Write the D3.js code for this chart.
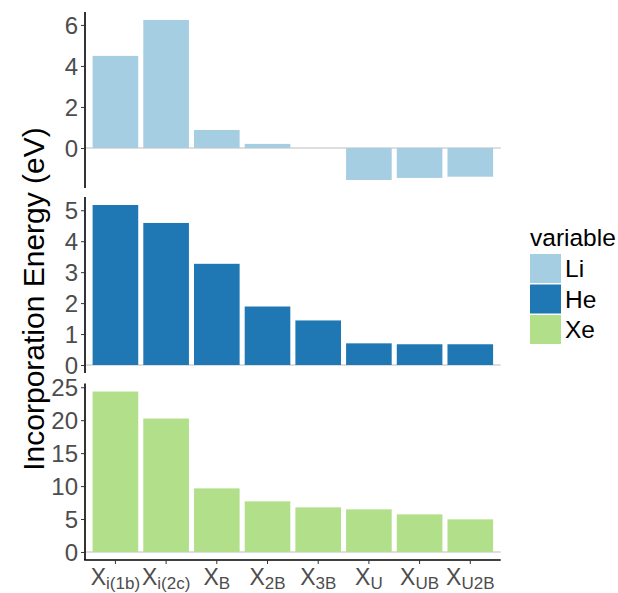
<!DOCTYPE html>
<html>
<head>
<meta charset="utf-8">
<script src="https://cdnjs.cloudflare.com/ajax/libs/d3/7.8.5/d3.min.js"></script>
<style>
  body { margin: 0; background: #fff; }
  text { font-family: "Liberation Sans", Arial, sans-serif; }
</style>
</head>
<body>
<script>
// DATA ––––––––––––––––––––––––––––––––––––––––––––––––––––––––––––––
var sites = ["i(1b)", "i(2c)", "B", "2B", "3B", "U", "UB", "U2B"];
var variables = ["Li", "He", "Xe"];
var liValues = [4.49, 6.24, 0.88, 0.2, 0, -1.56, -1.46, -1.4];
var heValues = [5.17, 4.59, 3.27, 1.89, 1.44, 0.70, 0.67, 0.67];
var xeValues = [24.35, 20.25, 9.65, 7.68, 6.77, 6.47, 5.71, 4.95];
var liTicks = [0, 2, 4, 6];
var heTicks = [0, 1, 2, 3, 4, 5];
var xeTicks = [0, 5, 10, 15, 20, 25];
var colors = ["#a6cee3", "#1f78b4", "#b2df8a"];

// LAYOUT ––––––––––––––––––––––––––––––––––––––––––––––––––––––––––––
var width = 618, height = 593;
var left = 85, right = 500.7;
var panels = [
  {values: liValues, ticks: liTicks, top: 12, bottom: 188},
  {values: heValues, ticks: heTicks, top: 197, bottom: 373},
  {values: xeValues, ticks: xeTicks, top: 383.5, bottom: 560}
];

var svg = d3.select("body").append("svg")
    .attr("width", width)
    .attr("height", height);

var x = d3.scaleBand()
    .domain(sites)
    .range([left, right])
    .paddingInner(0.1)
    .paddingOuter(0.15);

// PANELS ––––––––––––––––––––––––––––––––––––––––––––––––––––––––––––
panels.forEach(function(p, i) {
  let lo = Math.min(0, d3.min(p.values)),
      hi = Math.max(0, d3.max(p.values)),
      pad = (hi - lo) * 0.05;

  let y = d3.scaleLinear()
    .domain([lo - pad, hi + pad])
    .range([p.bottom, p.top]);

  let g = svg.append("g");

  // zero line
  g.append("line")
    .attr("x1", left).attr("x2", right)
    .attr("y1", y(0)).attr("y2", y(0))
    .attr("stroke", "#bdbdbd")
    .attr("stroke-width", 1.2);

  g.selectAll("rect")
    .data(p.values)
    .enter().append("rect")
      .attr("x", function(d, j) { return x(sites[j]); })
      .attr("width", x.bandwidth())
      .attr("y", function(d) { return y(Math.max(0, d)); })
      .attr("height", function(d) { return Math.abs(y(d) - y(0)); })
      .attr("fill", colors[i]);

  let axis = g.append("g")
    .attr("transform", "translate(" + left + ",0)")
    .call(d3.axisLeft(y).tickValues(p.ticks).tickFormat(d3.format("d")).tickSize(4).tickPadding(3));
  axis.select(".domain")
    .attr("d", "M0," + p.top + "V" + p.bottom)
    .attr("stroke", "#000")
    .attr("stroke-width", 1.6);
  axis.selectAll(".tick line").attr("stroke", "#333");
  axis.selectAll(".tick text")
    .attr("fill", "#4d4d4d")
    .style("font-size", "24px")
    .attr("dy", "0.36em");
});

// X AXIS ––––––––––––––––––––––––––––––––––––––––––––––––––––––––––––
var xBase = panels[2].bottom;
svg.append("line")
  .attr("x1", left - 0.8).attr("x2", right)
  .attr("y1", xBase).attr("y2", xBase)
  .attr("stroke", "#000")
  .attr("stroke-width", 1.6);

var xTicks = svg.append("g").selectAll("g")
  .data(sites)
  .enter().append("g")
    .attr("transform", function(d) { return "translate(" + (x(d) + x.bandwidth() / 2) + "," + xBase + ")"; });

xTicks.append("line")
  .attr("y1", 0).attr("y2", 4)
  .attr("stroke", "#333");

var xLabel = xTicks.append("text")
  .attr("y", 25)
  .attr("text-anchor", "middle")
  .attr("fill", "#4d4d4d")
  .style("font-size", "23px");
xLabel.append("tspan").text("X");
xLabel.append("tspan")
  .attr("dy", 4)
  .style("font-size", "17px")
  .text(function(d) { return d; });

// Y TITLE –––––––––––––––––––––––––––––––––––––––––––––––––––––––––––
svg.append("text")
  .attr("transform", "translate(44,299) rotate(-90)")
  .attr("text-anchor", "middle")
  .attr("fill", "#000")
  .style("font-size", "30px")
  .text("Incorporation Energy (eV)");

// LEGEND ––––––––––––––––––––––––––––––––––––––––––––––––––––––––––––
var legend = svg.append("g").attr("transform", "translate(530,0)");
legend.append("text")
  .attr("x", 0).attr("y", 246)
  .style("font-size", "24.5px")
  .text("variable");

variables.forEach(function(v, i) {
  legend.append("rect")
    .attr("x", 0).attr("y", 254 + i * 30.5)
    .attr("width", 31).attr("height", 29)
    .attr("fill", colors[i]);
  legend.append("text")
    .attr("x", 35).attr("y", 254 + i * 30.5 + 23)
    .style("font-size", "24.5px")
    .text(v);
});
</script>
</body>
</html>
